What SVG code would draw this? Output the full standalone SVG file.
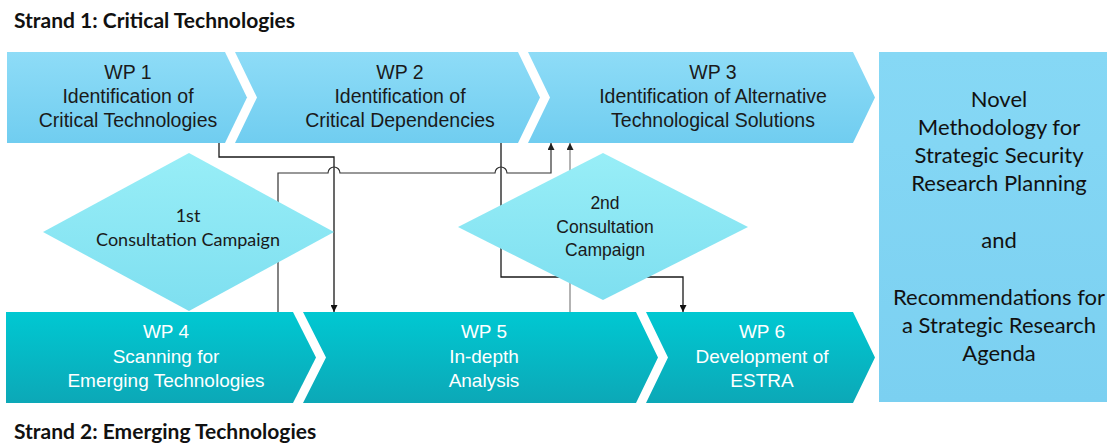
<svg xmlns="http://www.w3.org/2000/svg" width="1107" height="444" viewBox="0 0 1107 444">
<defs>
<linearGradient id="gTop" x1="0" y1="0" x2="0" y2="1">
<stop offset="0" stop-color="#8edcf7"/><stop offset="1" stop-color="#70cdf0"/>
</linearGradient>
<linearGradient id="gBot" x1="0" y1="0" x2="0" y2="1">
<stop offset="0" stop-color="#00c8d2"/><stop offset="1" stop-color="#0ca8b7"/>
</linearGradient>
<linearGradient id="gDia" x1="0" y1="0" x2="0" y2="1">
<stop offset="0" stop-color="#98eef7"/><stop offset="1" stop-color="#7edff0"/>
</linearGradient>
<linearGradient id="gBox" x1="0" y1="0" x2="0" y2="1">
<stop offset="0" stop-color="#86d8f5"/><stop offset="1" stop-color="#7bd0f1"/>
</linearGradient>
<marker id="arr" viewBox="0 0 10 10" refX="10" refY="5" markerWidth="7" markerHeight="7" markerUnits="userSpaceOnUse" orient="auto">
<path d="M0,0 L10,5 L0,10 z" fill="#111"/>
</marker>
<marker id="arrG" viewBox="0 0 10 10" refX="10" refY="5" markerWidth="7" markerHeight="7" markerUnits="userSpaceOnUse" orient="auto">
<path d="M0,0 L10,5 L0,10 z" fill="#222"/>
</marker>
</defs>
<style>
.title{font-family:Lato,"Liberation Sans",sans-serif;font-weight:bold;font-size:21px;fill:#111}
.wt{font-family:"Liberation Sans",Arial,sans-serif;font-size:19.5px;fill:#1a1a1a;text-anchor:middle}
.wb{font-family:"Liberation Sans",Arial,sans-serif;font-size:19px;fill:#ffffff;text-anchor:middle}
.dt{font-family:Lato,"Liberation Sans",sans-serif;font-size:18px;fill:#1a1a1a;text-anchor:middle}
.d2{font-family:"Liberation Sans",Arial,sans-serif;font-size:17.5px;fill:#1a1a1a;text-anchor:middle}
.bx{font-family:Lato,"Liberation Sans",sans-serif;font-size:22px;fill:#111;text-anchor:middle}
.top{fill:url(#gTop)}
.bot{fill:url(#gBot)}
.dia{fill:url(#gDia)}
.ln{fill:none;stroke:#1a1a1a;stroke-width:1.3}
.lg{fill:none;stroke:#333;stroke-width:1.2}
.lgl{fill:none;stroke:#8a8a8a;stroke-width:1.3}
</style>

<text class="title" x="14" y="28">Strand 1: Critical Technologies</text>
<text class="title" x="14" y="439">Strand 2: Emerging Technologies</text>

<g id="wp1">
<polygon class="top" points="7,52 225,52 247,97.5 225,143 7,143"/>
<text class="wt" x="128" y="79">WP 1</text>
<text class="wt" x="128" y="103">Identification of</text>
<text class="wt" x="128" y="127">Critical Technologies</text>
</g>
<g id="wp2">
<polygon class="top" points="235,52 518,52 540,97.5 518,143 235,143 257,97.5"/>
<text class="wt" x="400" y="79">WP 2</text>
<text class="wt" x="400" y="103">Identification of</text>
<text class="wt" x="400" y="127">Critical Dependencies</text>
</g>
<g id="wp3">
<polygon class="top" points="528,52 853,52 875,97.5 853,143 528,143 550,97.5"/>
<text class="wt" x="713" y="79">WP 3</text>
<text class="wt" x="713" y="103">Identification of Alternative</text>
<text class="wt" x="713" y="127">Technological Solutions</text>
</g>
<g id="wp4">
<polygon class="bot" points="6,312 293,312 316,357.5 293,403 6,403"/>
<text class="wb" x="166" y="338">WP 4</text>
<text class="wb" x="166" y="363">Scanning for</text>
<text class="wb" x="166" y="387">Emerging Technologies</text>
</g>
<g id="wp5">
<polygon class="bot" points="303,312 636,312 658,357.5 636,403 303,403 326,357.5"/>
<text class="wb" x="484" y="338">WP 5</text>
<text class="wb" x="484" y="363">In-depth</text>
<text class="wb" x="484" y="387">Analysis</text>
</g>
<g id="wp6">
<polygon class="bot" points="646,312 853,312 875,357.5 853,403 646,403 668,357.5"/>
<text class="wb" x="762" y="338">WP 6</text>
<text class="wb" x="762" y="363">Development of</text>
<text class="wb" x="762" y="387">ESTRA</text>
</g>
<g id="result">
<rect x="879" y="52" width="228" height="350" fill="url(#gBox)"/>
<text class="bx" x="999" y="107">Novel</text>
<text class="bx" x="999" y="135">Methodology for</text>
<text class="bx" x="999" y="163">Strategic Security</text>
<text class="bx" x="999" y="191">Research Planning</text>
<text class="bx" x="999" y="248">and</text>
<text class="bx" x="999" y="305">Recommendations for</text>
<text class="bx" x="999" y="333">a Strategic Research</text>
<text class="bx" x="999" y="361">Agenda</text>
</g>

<g id="connectors">
<path class="ln" d="M219,143 V157 H334 V312" marker-end="url(#arr)"/>
<path class="ln" d="M501,143 V277 H683 V312" marker-end="url(#arr)"/>
<path class="lg" d="M278,312 V173 H328 A6,6 0 0 1 340,173 H495 A6,6 0 0 1 507,173 H551 V143" marker-end="url(#arrG)"/>
<path class="lgl" d="M570,312 V143" marker-end="url(#arrG)"/>
</g>

<g id="c1">
<polygon class="dia" points="189,153 334,232 189,311 43,232"/>
<text class="dt" x="188" y="222">1st</text>
<text class="dt" x="188" y="246">Consultation Campaign</text>
</g>
<g id="c2">
<polygon class="dia" points="603,153 748,227 603,300 458,227"/>
<text class="d2" x="605" y="209">2nd</text>
<text class="d2" x="605" y="233">Consultation</text>
<text class="d2" x="605" y="256">Campaign</text>
</g>
</svg>
